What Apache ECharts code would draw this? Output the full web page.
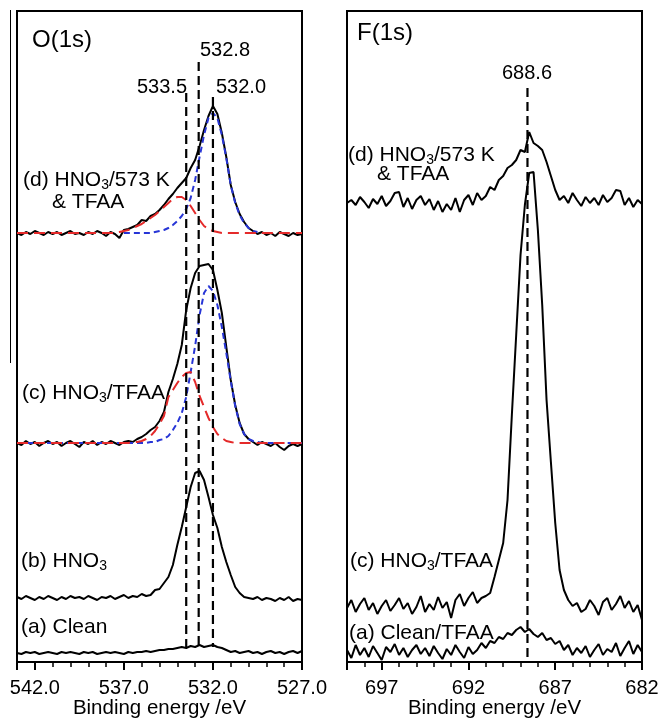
<!DOCTYPE html>
<html><head><meta charset="utf-8">
<script src="https://cdn.jsdelivr.net/npm/echarts@6/dist/echarts.min.js"></script>
<style>html,body{margin:0;padding:0;background:#fff}#c{width:659px;height:718px}</style>
</head><body><div id="c"></div>
<script>
// ---------- O(1s) panel data (binding energy, eV; intensity, arb. units) ----------
const energiesO = [543,542.75,542.5,542.25,542,541.75,541.5,541.25,541,540.75,540.5,540.25,540,539.75,539.5,539.25,539,538.75,538.5,538.25,538,537.75,537.5,537.25,537,536.75,536.5,536.25,536,535.75,535.5,535.25,535,534.75,534.5,534.25,534,533.75,533.5,533.25,533,532.75,532.5,532.25,532,531.75,531.5,531.25,531,530.75,530.5,530.25,530,529.75,529.5,529.25,529,528.75,528.5,528.25,528,527.75,527.5,527.25,527];
const oD = [429,427,430,428,431,429,427,430,428,430, 427,429,431,428,429,427,430,428,431,429, 426,430,428,424,432,433,435,437,442,441, 446,448,452,457,463,468,474,479,484,494, 502,516,532,546,556,548,529,505,477,460, 448,440,434,431,428,430,427,429,426,430, 428,426,429,427,428];
const oDblue = [null,null,null,null,null,null,null,null,null,null,null,null,null,null,null,null,null,null,null,null,null,null,null,null, 429,429,429,429,429,429,429,430,431,432,434,437,441,446,453,464,482,505,527,544,549,544,527,504,477,459,447,439,434,431,430, null,null,null,null,null,null,null,null,null,null];
const oDred = [429,429,429,429,429,429,429,429,429,429,429,429,429,429,429,429,429,429,429,429,429,429,429, 430,431,432,434,436,438,441,444,447,451,455,459,463,465,465,462,456,449,442,436,433,431,430, 429,429,429,429,429,429,429,429,429,429,429,429,429,429,429,429,429,429,429];
const oC = [219,217,221,218,220,216,219,221,218,220, 216,219,221,218,215,220,218,221,217,220, 218,221,219,217,220,221,220,223,225,228, 232,235,241,250,270,283,298,317,352,374, 389,396,397,398,392,372,349,315,282,257, 239,228,223,220,217,220,218,216,219,215, 212,216,218,216,218];
const oCblue = [219,219,219,219,219,219,219,219,219,219,219,219,219,219,219,219,219,219,219,219,219,219,219,219,219,219,219,219,219, 219,220,220,222,223,226,232,239,249,265,290,316,347,369,376,371,357,335,309,281,256,238,228,223,221,220, 219,219,219,219,219,219,219,219,219,219];
const oCred = [219,219,219,219,219,219,219,219,219,219,219,219,219,219,219,219,219,219,219,219,219,219,219,219,219, 219,220,220,221,223,226,231,238,246,265,272,279,285,289,290,280,266,255,244,235,228,224,221,220, 219,219,219,219,219,219,219,219,219,219,219,219,219,219,219,219];
const oB = [65,63,66,64,62,65,63,66,64,62, 65,63,66,64,65,63,66,64,62,65, 64,66,63,65,67,64,66,65,68,66, 67,72,73,79,85,97,117,135,155,175, 189,191,182,165,147,134,115,100,87,75, 69,65,64,63,65,62,64,63,61,64, 62,65,61,63,62];
const oA = [9,8,10,9,10,8,9,10,9,8, 10,9,10,9,8,10,9,10,8,9, 10,9,10,9,8,10,9,10,10,11, 10,11,12,12,13,13,14,15,14,16, 15,17,15,16,17,15,14,12,10,11, 9,10,11,9,10,8,10,11,9,10, 8,10,11,9,11];
const oTicks = [542, 537, 532, 527];
const oPeaks = [533.5, 532.8, 532.0];
const oPeakTop = [569, 600, 565];
const oPeakBottom = [15, 15, 15];

// ---------- F(1s) panel data ----------
const energiesF = [699,698.75,698.5,698.25,698,697.75,697.5,697.25,697,696.75,696.5,696.25,696,695.75,695.5,695.25,695,694.75,694.5,694.25,694,693.75,693.5,693.25,693,692.75,692.5,692.25,692,691.75,691.5,691.25,691,690.75,690.5,690.25,690,689.75,689.5,689.25,689,688.75,688.5,688.25,688,687.75,687.5,687.25,687,686.75,686.5,686.25,686,685.75,685.5,685.25,685,684.75,684.5,684.25,684,683.75,683.5,683.25,683,682.75,682.5,682.25,682];
const fD = [459,462,457,465,460,454,463,458,466,456, 461,469,470,455,464,453,462,466,457,463, 452,461,450,458,452,464,450,462,467,457, 469,462,466,475,472,482,486,494,497,502, 512,510,530,519,516,512,500,486,472,462, 466,459,469,462,456,465,459,464,457,467, 460,464,472,471,457,464,455,462,458];
const fC = [54,62,50,58,64,52,59,48,56,62, 51,57,64,53,59,48,55,66,50,58, 52,65,54,60,44,62,68,56,64,70, 59,64,66,69,85,102,119,162,247,327, 407,457,489,490,432,357,262,200,139,92, 72,62,56,59,50,53,62,56,47,60, 64,52,58,66,54,61,50,57,42];
const fA = [12,4,17,7,14,5,16,9,2,15, 10,18,7,14,5,12,17,8,14,6, 16,9,3,13,7,17,10,4,15,8, 12,19,14,21,19,25,23,29,27,32, 35,30,33,28,25,29,22,24,18,21, 12,17,7,14,9,16,5,12,18,7, 13,10,19,6,14,21,8,17,10];
const fTicks = [697, 692, 687, 682];
const fPeaks = [688.6];
const fPeakTop = [574];
const fPeakBottom = [0];

const FONT = '"Liberation Sans", Arial, sans-serif';
const BLACK = '#000';
const RED = '#e42a2a';
const BLUE = '#2735d6';

function pairs(xs, ys) { return xs.map((x, i) => [x, ys[i] == null ? null : ys[i]]); }

function majorAxis(g, min, max, ticks, digits) {
  return {
    type: 'value', gridIndex: g, min: min, max: max, inverse: true, interval: 5, position: 'bottom',
    axisLine: { show: true, onZero: false, lineStyle: { color: BLACK, width: 2 } },
    axisTick: { show: true, inside: false, length: 8, lineStyle: { color: BLACK, width: 2 } },
    axisLabel: { show: true, margin: 16, color: BLACK, fontSize: 20, fontFamily: FONT,
      formatter: v => ticks.includes(v) ? v.toFixed(digits) : '' },
    splitLine: { show: false },
    name: 'Binding energy /eV', nameLocation: 'middle', nameGap: 36, nameMoveOverlap: false,
    nameTextStyle: { color: BLACK, fontSize: 20.5, fontFamily: FONT }
  };
}
function minorAxis(g, min, max) {
  return {
    type: 'value', gridIndex: g, min: min, max: max, inverse: true, interval: 1, position: 'bottom',
    axisLine: { show: false }, axisLabel: { show: false }, splitLine: { show: false },
    axisTick: { show: true, inside: false, length: 5, lineStyle: { color: BLACK, width: 1.5 } }
  };
}
function spectrum(xi, yi, xs, ys, color, width, dash) {
  return {
    type: 'line', xAxisIndex: xi, yAxisIndex: yi, data: pairs(xs, ys), showSymbol: false,
    symbol: 'none', silent: true, connectNulls: false, smooth: false,
    lineStyle: { color: color, width: width, type: dash || 'solid' }, z: dash ? 3 : 2
  };
}
// dashed vertical reference lines, positioned through the axes
function peakLines(xi, yi, peaks, tops, bottoms) {
  return {
    type: 'custom', xAxisIndex: xi, yAxisIndex: yi, silent: true, z: 4,
    data: peaks.map((e, i) => [e, tops[i], bottoms[i]]),
    renderItem: function (params, api) {
      const p1 = api.coord([api.value(0), api.value(1)]);
      const p2 = api.coord([api.value(0), api.value(2)]);
      return { type: 'line', shape: { x1: p1[0], y1: p1[1], x2: p2[0], y2: p2[1] },
        style: { stroke: BLACK, lineWidth: 2.2, lineDash: [9, 5], lineCap: 'butt' } };
    }
  };
}

const rich = {
  n: { fontSize: 21, fontFamily: FONT, fill: BLACK, lineHeight: 25 },
  s: { fontSize: 14, fontFamily: FONT, fill: BLACK, lineHeight: 14, verticalAlign: 'bottom' }
};
function txt(x, y, text, size, align) {
  return { type: 'text', x: x, y: y, silent: true,
    style: { text: text, fill: BLACK, fontSize: size || 21, fontFamily: FONT,
      align: align || 'left', verticalAlign: 'middle', rich: rich } };
}

const option = {
  animation: false,
  backgroundColor: '#fff',
  grid: [
    { left: 17, top: 11, width: 285, height: 651, show: true, borderColor: BLACK, borderWidth: 2, backgroundColor: 'transparent', containLabel: false, outerBoundsMode: 'none' },
    { left: 347, top: 11, width: 295, height: 651, show: true, borderColor: BLACK, borderWidth: 2, backgroundColor: 'transparent', containLabel: false, outerBoundsMode: 'none' }
  ],
  xAxis: [ majorAxis(0, 527, 543, oTicks, 1), minorAxis(0, 527, 543), majorAxis(1, 682, 699, fTicks, 0), minorAxis(1, 682, 699) ],
  yAxis: [
    { type: 'value', gridIndex: 0, min: 0, max: 651, show: false },
    { type: 'value', gridIndex: 1, min: 0, max: 651, show: false }
  ],
  series: [
    spectrum(0, 0, energiesO, oA, BLACK, 2),
    spectrum(0, 0, energiesO, oB, BLACK, 2),
    spectrum(0, 0, energiesO, oC, BLACK, 2),
    spectrum(0, 0, energiesO, oD, BLACK, 2),
    spectrum(0, 0, energiesO, oCblue, BLUE, 2, [6, 4]),
    spectrum(0, 0, energiesO, oCred, RED, 2, [11, 6]),
    spectrum(0, 0, energiesO, oDblue, BLUE, 2, [6, 4]),
    spectrum(0, 0, energiesO, oDred, RED, 2, [11, 6]),
    spectrum(2, 1, energiesF, fA, BLACK, 2),
    spectrum(2, 1, energiesF, fC, BLACK, 2),
    spectrum(2, 1, energiesF, fD, BLACK, 2),
    peakLines(0, 0, oPeaks, oPeakTop, oPeakBottom),
    peakLines(2, 1, fPeaks, fPeakTop, fPeakBottom)
  ],
  graphic: [
    { type: 'line', silent: true, shape: { x1: 10.5, y1: 10, x2: 10.5, y2: 363 }, style: { stroke: BLACK, lineWidth: 1 } },
    txt(32, 40, 'O(1s)', 24),
    txt(225, 50, oPeaks[1].toFixed(1), 20, 'center'),
    txt(162, 87, oPeaks[0].toFixed(1), 20, 'center'),
    txt(241, 87, oPeaks[2].toFixed(1), 20, 'center'),
    txt(23, 180, '{n|(d) HNO}{s|3}{n|/573 K}'),
    txt(52, 202, '& TFAA'),
    txt(22, 393, '{n|(c) HNO}{s|3}{n|/TFAA}'),
    txt(21, 561, '{n|(b) HNO}{s|3}'),
    txt(21, 627, '(a) Clean'),
    txt(357, 33, 'F(1s)', 24),
    txt(527, 73, fPeaks[0].toFixed(1), 20, 'center'),
    txt(348, 155, '{n|(d) HNO}{s|3}{n|/573 K}'),
    txt(377, 174, '& TFAA'),
    txt(350, 561, '{n|(c) HNO}{s|3}{n|/TFAA}'),
    txt(349, 633, '(a) Clean/TFAA')
  ]
};
const chart = echarts.init(document.getElementById('c'));
chart.setOption(option);
</script>
</body></html>
